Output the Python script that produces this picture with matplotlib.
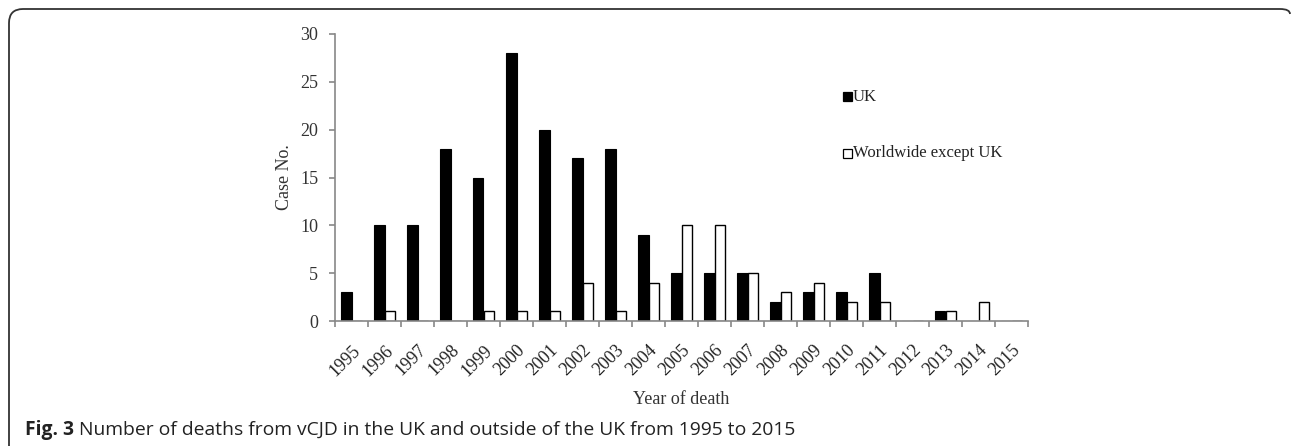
import matplotlib
matplotlib.use("Agg")
import matplotlib.pyplot as plt
import numpy as np
from matplotlib.path import Path
from matplotlib.patches import PathPatch, Rectangle

years = ["1995", "1996", "1997", "1998", "1999", "2000", "2001", "2002", "2003", "2004",
         "2005", "2006", "2007", "2008", "2009", "2010", "2011", "2012", "2013", "2014", "2015"]
uk = [3, 10, 10, 18, 15, 28, 20, 17, 18, 9, 5, 5, 5, 2, 3, 3, 5, 0, 1, 0, 0]
worldwide = [0, 1, 0, 0, 1, 1, 1, 4, 1, 4, 10, 10, 5, 3, 4, 2, 2, 0, 1, 2, 0]
series_names = ["UK", "Worldwide except UK"]
y_ticks = [0, 5, 10, 15, 20, 25, 30]
caption_bold = "Fig. 3"
caption_text = " Number of deaths from vCJD in the UK and outside of the UK from 1995 to 2015"

W, H = 1292, 446
fig = plt.figure(figsize=(W / 100, H / 100), dpi=100)
serif = "Liberation Serif"

ax = fig.add_axes([335 / W, 1 - 321 / H, (1028 - 335) / W, (321 - 34) / H])
x = np.arange(len(years))
bw = 0.31
ax.bar(x - bw / 2, uk, width=bw, color="black", edgecolor="black", linewidth=0.8)
ax.bar(x + bw / 2, worldwide, width=bw, color="white", edgecolor="black", linewidth=1.0)

ax.set_xlim(-0.5, len(years) - 0.5)
ax.set_ylim(0, 30)
ax.set_yticks(y_ticks)
ax.set_yticklabels([str(v) for v in y_ticks], fontfamily=serif, fontsize=13, color="#333333")
ax.set_xticks(x)
ax.set_xticklabels(years, rotation=45, ha="right", rotation_mode="anchor",
                   fontfamily=serif, fontsize=13, color="#222222")
ax.tick_params(axis="x", length=0, pad=15)
ax.set_xticks(np.arange(-0.5, len(years), 1.0), minor=True)
ax.tick_params(axis="x", which="minor", length=4, color="#888888", width=1.2)
ax.tick_params(axis="y", length=4, color="#888888", width=1.2, pad=8)
for s in ["top", "right"]:
    ax.spines[s].set_visible(False)
for s in ["left", "bottom"]:
    ax.spines[s].set_color("#888888")
    ax.spines[s].set_linewidth(1.2)

ax.set_ylabel("Case No.", fontfamily=serif, fontsize=13, labelpad=5, color="#333333")
ax.set_xlabel("Year of death", fontfamily=serif, fontsize=13, labelpad=8, color="#333333")

# legend (manual, matching reference placement)
for i, (name, fc) in enumerate(zip(series_names, ["black", "white"])):
    ty = 1 - (97 + 56 * i) / H
    fig.patches.append(Rectangle((843 / W, ty - 4.5 / H), 9 / W, 9 / H,
                                 facecolor=fc, edgecolor="black", linewidth=0.9,
                                 transform=fig.transFigure, figure=fig))
    fig.text(853 / W, ty, name, fontfamily=serif, fontsize=12, va="center", ha="left",
             color="#222222")

# caption
t1 = fig.text(25 / W, 1 - 435 / H, caption_bold, fontfamily="Open Sans", fontweight="bold",
              fontsize=13.9, va="baseline", ha="left", color="#222222")
fig.canvas.draw()
bb = t1.get_window_extent()
fig.text(bb.x1 / W, 1 - 435 / H, caption_text, fontfamily="Open Sans",
         fontsize=13.9, va="baseline", ha="left", color="#222222")

# rounded frame
r = 14
verts = [(9, H), (9, 9 + r), (9, 9), (9 + r, 9), (1280, 9), (1290, 9), (1290, 14)]
codes = [Path.MOVETO, Path.LINETO, Path.CURVE3, Path.CURVE3, Path.LINETO, Path.CURVE3, Path.CURVE3]
verts = [(vx / W, 1 - vy / H) for vx, vy in verts]
fig.patches.append(PathPatch(Path(verts, codes), facecolor="none", edgecolor="#333333",
                             linewidth=1.3, transform=fig.transFigure, figure=fig))

fig.savefig("out.png", dpi=100)
